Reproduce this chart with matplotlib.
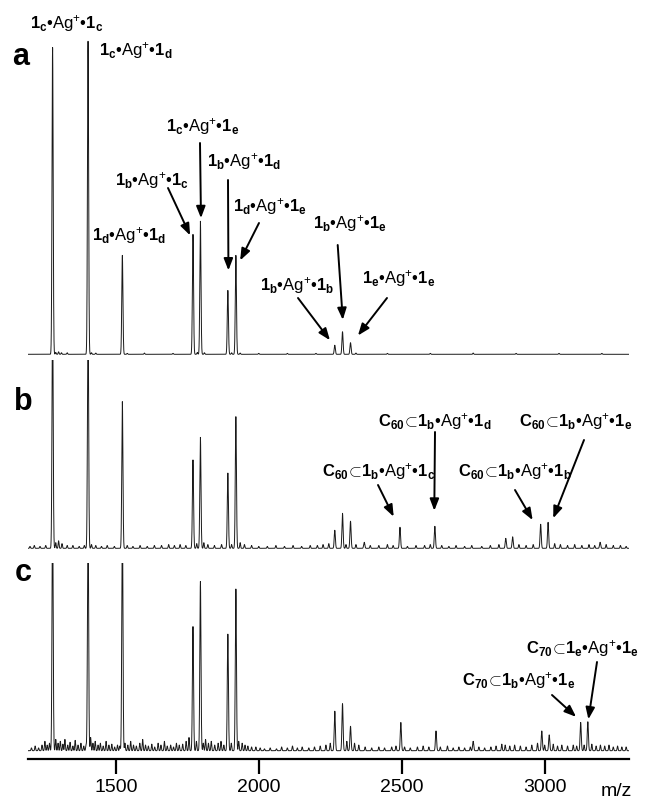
import numpy as np
import matplotlib
matplotlib.use("Agg")
import matplotlib.pyplot as plt

plt.rcParams['font.family'] = ['Liberation Sans', 'DejaVu Sans']
plt.rcParams['mathtext.fontset'] = 'custom'
plt.rcParams['mathtext.rm'] = 'Liberation Sans'
plt.rcParams['mathtext.bf'] = 'Liberation Sans:bold'
plt.rcParams['mathtext.it'] = 'Liberation Sans:italic'
plt.rcParams['mathtext.sf'] = 'Liberation Sans'

# ---------------- data ----------------
XMIN, XMAX = 1193, 3295
tick_values = [1500, 2000, 2500, 3000]
tick_labels = ["1500", "2000", "2500", "3000"]

# panel a: major peaks (m/z, relative intensity, tallest = 100)
a_mz = [1279, 1403, 1523, 1770, 1796, 1892, 1920, 2266, 2293, 2321]
a_int = [98, 100, 31.6, 38.3, 42.5, 20.4, 31.6, 2.9, 7.2, 3.7]
a_minor_mz = [1290, 1300, 1310, 1330, 1415, 1430, 1540, 1600, 1700, 1785, 1810, 1905,
              1935, 2000, 2100, 2200, 2340, 2450, 2600, 2750, 2900, 3050, 3200]
a_minor_int = [0.6, 0.8, 0.5, 0.5, 0.5, 0.4, 0.3, 0.4, 0.3, 0.6, 0.5, 0.5,
               0.4, 0.3, 0.3, 0.3, 0.4, 0.3, 0.3, 0.4, 0.3, 0.3, 0.3]

# panel b (first two peaks run off the top of the panel)
b_mz = [1279, 1403, 1523, 1770, 1796, 1892, 1920, 2266, 2293, 2321, 2369, 2494, 2616,
        2864, 2888, 2986, 3012, 3194]
b_int = [130, 130, 78, 47, 59, 40, 70, 9.6, 18.6, 14.4, 3.2, 11.2, 11.7,
         5.3, 6.1, 12.8, 13.8, 3.2]
b_minor_mz = [1200, 1215, 1235, 1255, 1290, 1300, 1312, 1330, 1350, 1372, 1390, 1415, 1430,
              1450, 1470, 1495, 1540, 1560, 1585, 1610, 1635, 1660, 1685, 1705, 1725, 1745,
              1783, 1808, 1822, 1845, 1870, 1905, 1935, 1950, 1975, 2000, 2030, 2060, 2090,
              2120, 2150, 2180, 2205, 2225, 2245, 2305, 2340, 2390, 2420, 2450, 2470, 2520,
              2550, 2580, 2600, 2640, 2665, 2690, 2720, 2745, 2780, 2810, 2840, 2910, 2935,
              2960, 3035, 3055, 3080, 3105, 3130, 3155, 3175, 3215, 3240, 3265, 3285]
b_minor_int = [1, 1.5, 1, 1.5, 3, 4, 2.5, 1.5, 1.5, 1, 1.5, 2, 1.5,
               1, 1.5, 1, 1.5, 1, 1.5, 1, 1.5, 1.5, 2, 1.5, 2, 1.5,
               2.5, 3, 2, 1.5, 2, 2, 3, 2, 1.5, 1, 1, 1.5, 1,
               1.5, 1, 1.5, 1.5, 2, 2.5, 2, 2, 1.5, 1.5, 2, 1.5, 1,
               1.5, 1.5, 2, 1.5, 1, 1.5, 1, 1.5, 1, 1.5, 2, 2, 1.5,
               2, 2.5, 2, 1.5, 2, 1.5, 2, 1.5, 2, 1.5, 1.5, 1]

# panel c (first three peaks run off the top of the panel)
c_mz = [1279, 1403, 1523, 1770, 1796, 1892, 1920, 2266, 2293, 2321, 2497, 2620, 2750,
        2990, 3016, 3126, 3151]
c_int = [130, 130, 130, 66, 90, 62, 86, 21, 25, 13, 15, 10.5, 5,
         10.5, 8.4, 15, 15.4]
c_minor_mz = [1205, 1218, 1230, 1242, 1252, 1260, 1268, 1290, 1298, 1306, 1315, 1322, 1332,
              1340, 1350, 1358, 1368, 1378, 1388, 1396, 1412, 1420, 1428, 1438, 1446, 1456,
              1466, 1476, 1486, 1496, 1506, 1514, 1532, 1542, 1552, 1562, 1572, 1584, 1594,
              1604, 1614, 1626, 1636, 1648, 1658, 1670, 1680, 1692, 1702, 1712, 1722, 1734,
              1746, 1756, 1782, 1806, 1814, 1824, 1834, 1846, 1858, 1868, 1878, 1904, 1930,
              1942, 1952, 1962, 1975, 1990, 2005, 2020, 2040, 2062, 2080, 2100, 2118, 2135,
              2152, 2175, 2195, 2215, 2235, 2250, 2308, 2335, 2350, 2372, 2395, 2420, 2440,
              2465, 2480, 2510, 2530, 2555, 2575, 2595, 2635, 2660, 2680, 2700, 2720, 2740,
              2770, 2790, 2812, 2830, 2850, 2862, 2878, 2895, 2915, 2935, 2955, 2975, 3000,
              3030, 3045, 3060, 3080, 3100, 3112, 3138, 3165, 3180, 3195, 3210, 3225, 3240,
              3255, 3270, 3285]
c_minor_int = [1.5, 2.5, 1.5, 3, 5, 3, 4, 6, 4, 5, 3.5, 6, 3,
               4.5, 2.5, 5.5, 3, 4, 2.5, 3, 7, 4, 5, 3, 4, 2.5,
               5, 3, 3.5, 2, 3, 2.5, 4, 3, 5, 3, 2.5, 4, 6,
               3, 2.5, 3.5, 2, 4, 3, 5, 2.5, 3, 2, 4, 3, 3.5,
               5, 7, 5, 4, 6, 4, 5, 3, 4, 5, 3, 4, 5,
               4, 3, 2.5, 2, 2, 1.5, 1, 1.5, 1, 2, 1.5, 2.5, 1.5,
               2, 1.5, 2, 2.5, 3, 4, 5, 4, 3, 2, 1.5, 2, 1.5,
               2, 2.5, 2, 1.5, 2, 2.5, 2, 2, 2.5, 1.5, 2, 1.5, 2,
               2, 1.5, 2, 2.5, 3.5, 3, 2.5, 3, 2.5, 2, 3, 4, 3,
               3.5, 2.5, 3, 2.5, 3, 2.5, 3, 3.5, 2.5, 3, 2.5, 3, 2,
               2.5, 2, 2]

# ---------------- label helpers ----------------
def dimer(p, q):
    return (r'$\mathbf{1}_\mathbf{' + p + r'}$•$\mathrm{Ag}^{+}$•$\mathbf{1}_\mathbf{' + q + r'}$')

def inc(n, p, q):
    return (r'$\mathbf{C}_\mathbf{' + n + r'}\!\subset\!\mathbf{1}_\mathbf{' + p +
            r'}$•$\mathrm{Ag}^{+}$•$\mathbf{1}_\mathbf{' + q + r'}$')

# ---------------- figure ----------------
W, H = 647, 801
fig = plt.figure(figsize=(W / 100, H / 100), dpi=100)
LEFT, RIGHT = 28, 629

def make_axes(base_y, scale, ylo, yhi):
    bottom = (H - base_y) + ylo * scale
    height = (yhi - ylo) * scale
    ax = fig.add_axes([LEFT / W, bottom / H, (RIGHT - LEFT) / W, height / H])
    ax.set_xlim(XMIN, XMAX)
    ax.set_ylim(ylo, yhi)
    for s in ax.spines.values():
        s.set_visible(False)
    ax.set_yticks([])
    ax.set_xticks([])
    ax.patch.set_alpha(0)
    return ax

ax_a = make_axes(354.3, 3.13, -2, 110)
ax_b = make_axes(548.3, 1.88, -3, 100)
ax_c = make_axes(750.7, 1.88, -4.6, 100)

mz = np.arange(XMIN, XMAX + 0.25, 0.25)

def spectrum(major_mz, major_int, minor_mz, minor_int):
    y = np.zeros_like(mz)
    for m, h in zip(major_mz, major_int):
        y += h * np.exp(-0.5 * ((mz - m) / 2.0) ** 2)
    for m, h in zip(minor_mz, minor_int):
        y += h * np.exp(-0.5 * ((mz - m) / 1.5) ** 2)
    return y

for ax, d in [(ax_a, (a_mz, a_int, a_minor_mz, a_minor_int)),
              (ax_b, (b_mz, b_int, b_minor_mz, b_minor_int)),
              (ax_c, (c_mz, c_int, c_minor_mz, c_minor_int))]:
    ax.plot(mz, spectrum(*d), color='#1a1a1a', lw=0.7)

# x axis on the bottom panel
ax_c.spines['bottom'].set_visible(True)
ax_c.spines['bottom'].set_linewidth(1.6)
ax_c.set_xticks(tick_values)
ax_c.set_xticklabels(tick_labels)
ax_c.tick_params(axis='x', direction='out', length=11, width=1.6, pad=3, labelsize=14)

def fxy(x, y):
    return x / W, 1 - y / H

fig.text(*fxy(616, 792), 'm/z', fontsize=14, ha='center', va='center')

# panel letters
for letter, (x, y) in zip(['a', 'b', 'c'], [(21, 57), (23, 402), (23, 573)]):
    fig.text(*fxy(x, y), letter, fontsize=22, fontweight='bold', ha='center', va='center')

# text labels: (text, left x, baseline y) in image pixels
FS = 12
texts = [
    (dimer('c', 'c'), 30, 28),
    (dimer('c', 'd'), 99, 55),
    (dimer('c', 'e'), 166, 131.7),
    (dimer('b', 'd'), 207, 166.7),
    (dimer('b', 'c'), 115, 185),
    (dimer('d', 'd'), 92, 240),
    (dimer('d', 'e'), 233, 211.7),
    (dimer('b', 'e'), 313, 228.3),
    (dimer('b', 'b'), 260, 290),
    (dimer('e', 'e'), 362, 283.3),
    (inc('60', 'b', 'd'), 378, 426.7),
    (inc('60', 'b', 'e'), 519, 426.7),
    (inc('60', 'b', 'c'), 322, 476.7),
    (inc('60', 'b', 'b'), 458, 476.7),
    (inc('70', 'e', 'e'), 526, 653),
    (inc('70', 'b', 'e'), 462, 685),
]
for s, x, y in texts:
    fig.text(*fxy(x, y), s, fontsize=FS, ha='left', va='baseline')

# arrows: (axes, tail x, tail y [image px], tip m/z, tip intensity)
arrows = [
    (ax_a, 200, 143, 1798, 43.5),
    (ax_a, 168, 188, 1760, 38),
    (ax_a, 228, 180, 1894, 26.8),
    (ax_a, 259, 223, 1935, 30),
    (ax_a, 337.7, 245, 2294, 11),
    (ax_a, 298, 298, 2249, 4.5),
    (ax_a, 387, 298, 2347, 6),
    (ax_b, 435, 432, 2614, 20),
    (ax_b, 584, 440, 3030, 16),
    (ax_b, 378, 485, 2472, 16.8),
    (ax_b, 515, 490, 2958, 15),
    (ax_c, 552, 695, 3110, 18),
    (ax_c, 597, 662, 3153, 16.7),
]
for ax, tx, ty, mx, my in arrows:
    ax.annotate('', xy=(mx, my), xycoords='data',
                xytext=fxy(tx, ty), textcoords='figure fraction',
                arrowprops=dict(arrowstyle='-|>,head_length=0.7,head_width=0.27',
                                lw=1.4, color='black', shrinkA=0, shrinkB=0),
                annotation_clip=False)

fig.savefig('out.png', dpi=100)
